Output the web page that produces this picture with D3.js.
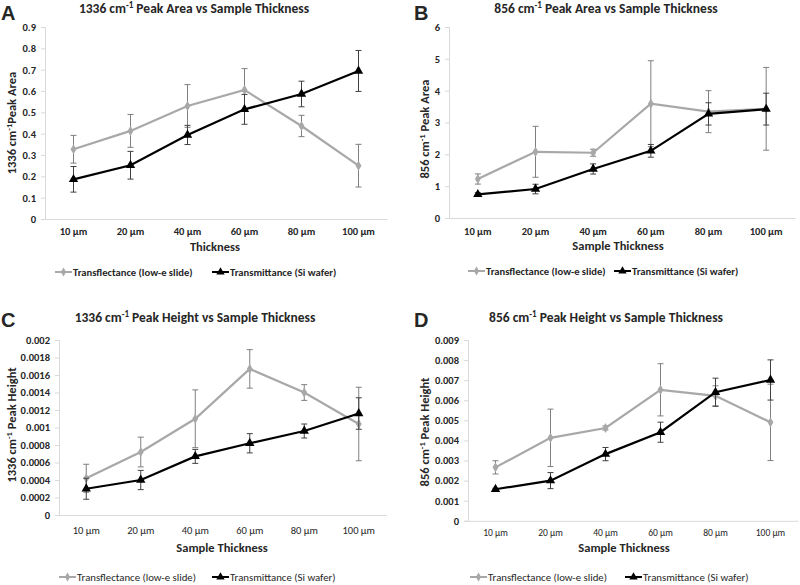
<!DOCTYPE html>
<html>
<head>
<meta charset="utf-8">
<script src="https://cdn.jsdelivr.net/npm/d3@7"></script>
<style>
  body { margin: 0; background: #fff; }
  svg text { font-family: Carlito, Calibri, Lato, "Open Sans", sans-serif; fill: #262626; }
</style>
</head>
<body>
<svg id="chart" width="800" height="585"></svg>
<script>
// ---------- data ----------
const categories = ["10 µm", "20 µm", "40 µm", "60 µm", "80 µm", "100 µm"];
const seriesNames = ["Transflectance (low-e slide)", "Transmittance (Si wafer)"];

const area1336Transflectance = [0.327, 0.413, 0.53, 0.605, 0.436, 0.25];
const area1336TransflectanceErr = [0.065, 0.077, 0.10, 0.10, 0.05, 0.10];
const area1336Transmittance = [0.186, 0.252, 0.394, 0.514, 0.586, 0.694];
const area1336TransmittanceErr = [0.06, 0.065, 0.045, 0.07, 0.06, 0.096];

const area856Transflectance = [1.225, 2.08, 2.05, 3.59, 3.34, 3.43];
const area856TransflectanceErr = [0.16, 0.8, 0.11, 1.35, 0.66, 1.3];
const area856Transmittance = [0.745, 0.91, 1.54, 2.11, 3.27, 3.42];
const area856TransmittanceErr = [0.05, 0.15, 0.16, 0.2, 0.35, 0.5];

const height1336Transflectance = [0.00042, 0.00072, 0.0011, 0.00167, 0.0014, 0.00104];
const height1336TransflectanceErr = [0.00016, 0.00017, 0.00033, 0.00022, 0.00009, 0.00042];
const height1336Transmittance = [0.0003, 0.0004, 0.00067, 0.00082, 0.00096, 0.00116];
const height1336TransmittanceErr = [0.00012, 0.00011, 0.00008, 0.00011, 0.00008, 0.00018];

const height856Transflectance = [0.00266, 0.00413, 0.00462, 0.00652, 0.00622, 0.0049];
const height856TransflectanceErr = [0.00033, 0.00143, 0.0001, 0.0013, 0.0005, 0.0019];
const height856Transmittance = [0.00157, 0.002, 0.00332, 0.00441, 0.0064, 0.00701];
const height856TransmittanceErr = [0.00005, 0.0004, 0.00033, 0.0005, 0.0007, 0.001];

const yTicksA = [0, 0.1, 0.2, 0.3, 0.4, 0.5, 0.6, 0.7, 0.8, 0.9];
const yTicksB = [0, 1, 2, 3, 4, 5, 6];
const yTicksC = [0, 0.0002, 0.0004, 0.0006, 0.0008, 0.001, 0.0012, 0.0014, 0.0016, 0.0018, 0.002];
const yTicksD = [0, 0.001, 0.002, 0.003, 0.004, 0.005, 0.006, 0.007, 0.008, 0.009];

// ---------- drawing ----------
const svg = d3.select("#chart");
const GRAY = "#a8a8a8", BLACK = "#000000";

function panel(cfg) {
  const g = svg.append("g");
  const x = d3.scaleBand().domain(categories).range([cfg.x0, cfg.x1]);
  const y = d3.scaleLinear().domain([0, d3.max(cfg.yTicks)]).range([cfg.y0, cfg.yTop]);

  // panel letter
  g.append("text").attr("x", cfg.letterX).attr("y", cfg.letterY)
    .style("font-family", "Liberation Sans, Arial, sans-serif")
    .attr("font-size", 20).attr("font-weight", "bold").attr("fill", "#000").text(cfg.letter);

  // title
  const t = g.append("text").attr("x", cfg.titleX).attr("y", cfg.titleY)
    .attr("text-anchor", "middle").attr("font-size", 13.5).attr("font-weight", "bold");
  t.append("tspan").text(cfg.wn + " cm");
  t.append("tspan").attr("dy", -5).attr("font-size", 9).text("-1");
  t.append("tspan").attr("dy", 5).text(" " + cfg.titleRest);

  // y axis
  const yAxis = d3.axisLeft(y).tickValues(cfg.yTicks).tickSize(4).tickPadding(5)
    .tickFormat(d => String(+d.toPrecision(6)));
  const ya = g.append("g").attr("transform", `translate(${cfg.x0},0)`).call(yAxis);
  ya.select(".domain").attr("stroke", "#d9d9d9");
  ya.selectAll(".tick line").attr("stroke", "#d9d9d9");
  ya.selectAll(".tick text").attr("font-size", cfg.yTickSize).attr("font-weight", "bold")
    .style("font-family", null).attr("fill", "#262626");

  // x axis
  const xAxis = d3.axisBottom(x).tickSize(0).tickPadding(cfg.xTickPad);
  const xa = g.append("g").attr("transform", `translate(0,${cfg.y0})`).call(xAxis);
  xa.select(".domain").attr("stroke", "#d9d9d9");
  xa.selectAll(".tick text").attr("font-size", cfg.xTickSize).attr("font-weight", cfg.xTickWeight)
    .style("font-family", null).attr("fill", "#262626");

  // y title
  const yt = g.append("text").attr("transform", `translate(${cfg.yTitleX},${cfg.yTitleY}) rotate(-90)`)
    .attr("text-anchor", "middle").attr("font-size", 12.5).attr("font-weight", "bold");
  yt.append("tspan").text(cfg.wn + " cm");
  yt.append("tspan").attr("dy", -4).attr("font-size", 8.5).text("-1");
  yt.append("tspan").attr("dy", 4).text(cfg.yTitleGap + "Peak " + cfg.measure);

  // x title
  g.append("text").attr("x", cfg.xTitleX).attr("y", cfg.xTitleY).attr("text-anchor", "middle")
    .attr("font-size", 12.5).attr("font-weight", "bold").text(cfg.xTitle);

  const cx = c => x(c) + x.bandwidth() / 2;
  const series = [
    { vals: cfg.s1, err: cfg.e1, color: GRAY, errColor: "#7f7f7f", marker: d3.symbolDiamond, size: 30 },
    { vals: cfg.s2, err: cfg.e2, color: BLACK, errColor: "#404040", marker: d3.symbolTriangle, size: 38 }
  ];

  series.forEach(s => {
    const pts = categories.map((c, i) => ({ c, v: s.vals[i], e: s.err[i] }));
    // error bars
    const eb = g.append("g");
    pts.forEach(p => {
      const xx = cx(p.c);
      eb.append("line").attr("x1", xx).attr("x2", xx).attr("y1", y(p.v - p.e)).attr("y2", y(p.v + p.e))
        .attr("stroke", s.errColor).attr("stroke-width", 1);
      [p.v - p.e, p.v + p.e].forEach(v => {
        eb.append("line").attr("x1", xx - 3).attr("x2", xx + 3).attr("y1", y(v)).attr("y2", y(v))
          .attr("stroke", s.errColor).attr("stroke-width", 1);
      });
    });
    g.append("path").datum(pts)
      .attr("d", d3.line().x(p => cx(p.c)).y(p => y(p.v)))
      .attr("fill", "none").attr("stroke", s.color).attr("stroke-width", 2.2);
    g.selectAll(null).data(pts).enter().append("path")
      .attr("transform", p => `translate(${cx(p.c)},${y(p.v)})`)
      .attr("d", d3.symbol().type(s.marker).size(s.size)).attr("fill", s.color);
  });

  // legend
  const lg = g.append("g");
  [0, 1].forEach(i => {
    const lx = cfg.legX[i], ly = cfg.legY;
    const s = series[i];
    lg.append("line").attr("x1", lx).attr("x2", lx + 17).attr("y1", ly).attr("y2", ly)
      .attr("stroke", s.color).attr("stroke-width", 2);
    lg.append("path").attr("transform", `translate(${lx + 8.5},${ly})`)
      .attr("d", d3.symbol().type(s.marker).size(s.size * 0.8)).attr("fill", s.color);
    lg.append("text").attr("x", lx + 18).attr("y", ly + 3.5).attr("font-size", cfg.legSize)
      .attr("font-weight", cfg.legWeight).text(seriesNames[i]);
  });
}

panel({
  letter: "A", letterX: 1, letterY: 20, wn: "1336", titleRest: "Peak Area vs Sample Thickness",
  titleX: 194, titleY: 13, measure: "Area", yTitleGap: "",
  x0: 45, x1: 387, y0: 219, yTop: 27, yTicks: yTicksA, yTickSize: 10.5,
  xTickSize: 10.5, xTickWeight: "bold", xTickPad: 9,
  yTitleX: 16, yTitleY: 123, xTitle: "Thickness", xTitleX: 215, xTitleY: 251,
  s1: area1336Transflectance, e1: area1336TransflectanceErr,
  s2: area1336Transmittance, e2: area1336TransmittanceErr,
  legX: [55, 212], legY: 272, legWeight: "bold", legSize: 10.6
});
panel({
  letter: "B", letterX: 414, letterY: 20, wn: "856", titleRest: "Peak Area vs Sample Thickness",
  titleX: 606, titleY: 13, measure: "Area", yTitleGap: " ",
  x0: 449, x1: 795, y0: 218, yTop: 27, yTicks: yTicksB, yTickSize: 10.5,
  xTickSize: 10.5, xTickWeight: "bold", xTickPad: 10,
  yTitleX: 429, yTitleY: 129, xTitle: "Sample Thickness", xTitleX: 618, xTitleY: 250,
  s1: area856Transflectance, e1: area856TransflectanceErr,
  s2: area856Transmittance, e2: area856TransmittanceErr,
  legX: [468, 614], legY: 271, legWeight: "bold", legSize: 10.6
});
panel({
  letter: "C", letterX: 1, letterY: 327, wn: "1336", titleRest: "Peak Height vs Sample Thickness",
  titleX: 195, titleY: 322, measure: "Height", yTitleGap: " ",
  x0: 59, x1: 386, y0: 515, yTop: 340, yTicks: yTicksC, yTickSize: 10.5,
  xTickSize: 10.5, xTickWeight: "normal", xTickPad: 12,
  yTitleX: 16, yTitleY: 425, xTitle: "Sample Thickness", xTitleX: 222, xTitleY: 552,
  s1: height1336Transflectance, e1: height1336TransflectanceErr,
  s2: height1336Transmittance, e2: height1336TransmittanceErr,
  legX: [59, 212], legY: 577, legWeight: "normal", legSize: 10.8
});
panel({
  letter: "D", letterX: 414, letterY: 327, wn: "856", titleRest: "Peak Height vs Sample Thickness",
  titleX: 606, titleY: 322, measure: "Height", yTitleGap: " ",
  x0: 468, x1: 798, y0: 520.8, yTop: 340, yTicks: yTicksD, yTickSize: 10.5,
  xTickSize: 9.5, xTickWeight: "normal", xTickPad: 8,
  yTitleX: 429, yTitleY: 432, xTitle: "Sample Thickness", xTitleX: 624, xTitleY: 552,
  s1: height856Transflectance, e1: height856TransflectanceErr,
  s2: height856Transmittance, e2: height856TransmittanceErr,
  legX: [470, 625], legY: 577, legWeight: "normal", legSize: 10.8
});
</script>
</body>
</html>
